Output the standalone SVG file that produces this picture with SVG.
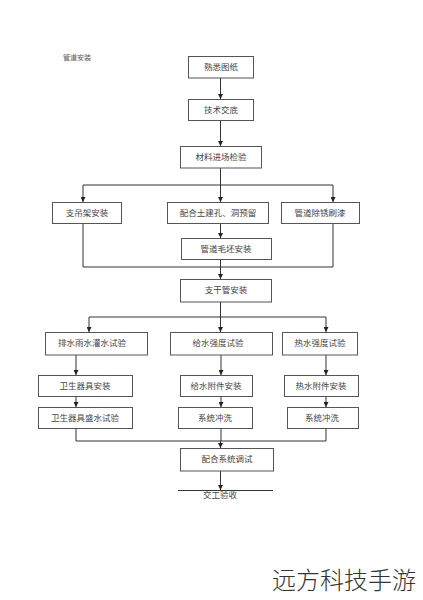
<svg xmlns="http://www.w3.org/2000/svg" width="423" height="600" viewBox="0 0 423 600">
<style>
.b{fill:#fff;stroke:#555;stroke-width:1}
.t{font-family:"Liberation Serif","Noto Sans CJK SC",serif;font-size:8.5px;fill:#444;text-anchor:middle}
.c{fill:none;stroke:#333;stroke-width:1}
</style>
<defs>
<marker id="a" viewBox="0 0 6 6" refX="6" refY="3" markerWidth="5" markerHeight="5" orient="auto" markerUnits="userSpaceOnUse"><path d="M0,0L6,3L0,6z" fill="#222"/></marker>
</defs>
<rect width="423" height="600" fill="#fff"/>
<text x="63" y="60" style="font-family:'Liberation Serif','Noto Sans CJK SC',serif;font-size:7px;fill:#555">管道安装</text>
<g id="connectors">
<path class="c" d="M220.5,78V99" marker-end="url(#a)"/>
<path class="c" d="M220.5,120V146" marker-end="url(#a)"/>
<path class="c" d="M220.5,168V202" marker-end="url(#a)"/>
<path class="c" d="M83,185H333"/>
<path class="c" d="M83,185V202" marker-end="url(#a)"/>
<path class="c" d="M333,185V202" marker-end="url(#a)"/>
<path class="c" d="M220.5,223V238" marker-end="url(#a)"/>
<path class="c" d="M83,223V267H333V223"/>
<path class="c" d="M220.5,259V279" marker-end="url(#a)"/>
<path class="c" d="M220.5,302V332" marker-end="url(#a)"/>
<path class="c" d="M89,317H326"/>
<path class="c" d="M89,317V332" marker-end="url(#a)"/>
<path class="c" d="M326,317V332" marker-end="url(#a)"/>
<path class="c" d="M76,355V375" marker-end="url(#a)"/>
<path class="c" d="M221,355V375" marker-end="url(#a)"/>
<path class="c" d="M326,355V375" marker-end="url(#a)"/>
<path class="c" d="M76,396V407" marker-end="url(#a)"/>
<path class="c" d="M221,396V407" marker-end="url(#a)"/>
<path class="c" d="M326,396V407" marker-end="url(#a)"/>
<path class="c" d="M76,428V441H326V428"/>
<path class="c" d="M221,428V441"/>
<path class="c" d="M220.5,441V448" marker-end="url(#a)"/>
<path class="c" d="M220.5,471V490" marker-end="url(#a)"/>
<path class="c" d="M178,490.5H273"/>
</g>
<g id="n1"><rect class="b" x="188.5" y="56.5" width="65" height="21.5"/><text class="t" x="221" y="70">熟悉图纸</text></g>
<g id="n2"><rect class="b" x="188.5" y="99.5" width="65" height="21"/><text class="t" x="221" y="113">技术交底</text></g>
<g id="n3"><rect class="b" x="180.5" y="146.5" width="81" height="21.5"/><text class="t" x="221" y="160">材料进场检验</text></g>
<g id="n4"><rect class="b" x="52.5" y="202.5" width="69" height="21"/><text class="t" x="87" y="216">支吊架安装</text></g>
<g id="n5"><rect class="b" x="167.5" y="202.5" width="101" height="21"/><text class="t" x="218" y="216">配合土建孔、洞预留</text></g>
<g id="n6"><rect class="b" x="281.5" y="202.5" width="78" height="21"/><text class="t" x="320" y="216">管道除锈刷漆</text></g>
<g id="n7"><rect class="b" x="181.5" y="238.5" width="90" height="21"/><text class="t" x="226" y="252">管道毛坯安装</text></g>
<g id="n8"><rect class="b" x="180.5" y="279.5" width="91" height="22.5"/><text class="t" x="226" y="293">支干管安装</text></g>
<g id="n9"><rect class="b" x="45.5" y="332.5" width="102" height="22.5"/><text class="t" x="92" y="346">排水雨水灌水试验</text></g>
<g id="n10"><rect class="b" x="170.5" y="332.5" width="102" height="22.5"/><text class="t" x="218" y="346">给水强度试验</text></g>
<g id="n11"><rect class="b" x="282.5" y="332.5" width="75" height="22.5"/><text class="t" x="320" y="346">热水强度试验</text></g>
<g id="n12"><rect class="b" x="38.5" y="375.5" width="94" height="21"/><text class="t" x="85" y="389">卫生器具安装</text></g>
<g id="n13"><rect class="b" x="180.5" y="375.5" width="72" height="21"/><text class="t" x="216" y="389">给水附件安装</text></g>
<g id="n14"><rect class="b" x="284.5" y="375.5" width="74" height="21"/><text class="t" x="321" y="389">热水附件安装</text></g>
<g id="n15"><rect class="b" x="38.5" y="407.5" width="94" height="21"/><text class="t" x="85" y="421">卫生器具盛水试验</text></g>
<g id="n16"><rect class="b" x="178.5" y="407.5" width="74" height="21"/><text class="t" x="215" y="421">系统冲洗</text></g>
<g id="n17"><rect class="b" x="287.5" y="407.5" width="71" height="21"/><text class="t" x="322" y="421">系统冲洗</text></g>
<g id="n18"><rect class="b" x="180.5" y="448.5" width="93" height="22.5"/><text class="t" x="227" y="462">配合系统调试</text></g>
<g id="n19"><text class="t" x="220" y="498">交工验收</text></g>
<text x="272" y="589" style="font-family:'Noto Sans CJK SC',sans-serif;font-size:24px;font-weight:300;fill:#333">远方科技手游</text>
</svg>
